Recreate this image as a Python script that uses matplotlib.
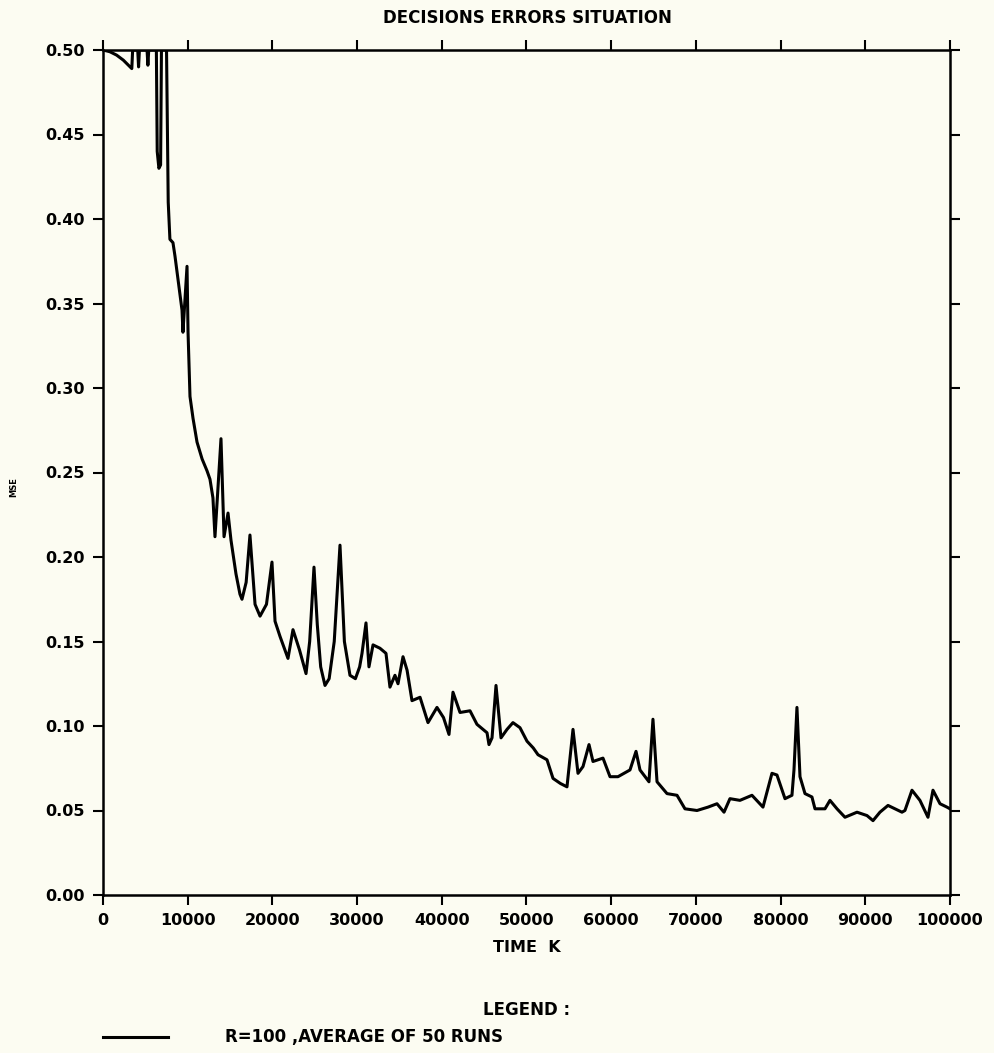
import matplotlib
matplotlib.use("Agg")
import matplotlib.pyplot as plt

# ---- data ----
time_k = [0, 800, 1600, 2400, 3000, 3400, 3500, 4100, 4200, 4300, 5200, 5300, 5400,
          6300, 6400, 6600, 6800, 6900, 7500, 7700, 7900, 8260, 8500, 9330, 9440,
          9920, 10040, 10270, 10630, 11100, 11700, 12280, 12630, 12980, 13220, 13930,
          14290, 14760, 15110, 15700, 16170, 16410, 16900, 17350, 17950, 18540, 19300,
          19950, 20310, 20900, 21840, 22430, 23200, 23970, 24400, 24910, 25300, 25700,
          26210, 26700, 27300, 27980, 28500, 29160, 29800, 30300, 30580, 31050, 31400,
          31880, 32700, 33410, 33880, 34470, 34830, 35420, 35900, 36480, 37430, 38370,
          39430, 40200, 40850, 41320, 42150, 43330, 44150, 45340, 45570, 45930, 46400,
          46990, 47700, 48400, 49230, 50060, 50800, 51360, 52420, 53130, 54000, 54780,
          55490, 56080, 56670, 57380, 57850, 59030, 59860, 60800, 62220, 62930, 63400,
          64460, 64930, 65410, 66590, 67770, 68710, 70130, 71430, 72490, 73320, 74020,
          75200, 76620, 77920, 78980, 79570, 80520, 81340, 81580, 81930, 82290, 82880,
          83700, 84060, 85240, 85830, 86660, 87600, 89020, 90200, 90910, 91730, 92680,
          94330, 94680, 95510, 96450, 97400, 97990, 98820, 99640, 100000]
mse = [0.500, 0.499, 0.497, 0.494, 0.491, 0.489, 0.500, 0.500, 0.490, 0.500, 0.500, 0.491, 0.500,
       0.500, 0.440, 0.430, 0.432, 0.500, 0.500, 0.410, 0.388, 0.386, 0.378, 0.346, 0.333,
       0.372, 0.333, 0.295, 0.282, 0.268, 0.258, 0.251, 0.246, 0.235, 0.212, 0.270,
       0.212, 0.226, 0.210, 0.190, 0.178, 0.175, 0.185, 0.213, 0.172, 0.165, 0.172,
       0.197, 0.162, 0.153, 0.140, 0.157, 0.145, 0.131, 0.150, 0.194, 0.160, 0.135,
       0.124, 0.128, 0.150, 0.207, 0.150, 0.130, 0.128, 0.135, 0.143, 0.161, 0.135,
       0.148, 0.146, 0.143, 0.123, 0.130, 0.125, 0.141, 0.133, 0.115, 0.117, 0.102,
       0.111, 0.105, 0.095, 0.120, 0.108, 0.109, 0.101, 0.096, 0.089, 0.093, 0.124,
       0.093, 0.098, 0.102, 0.099, 0.091, 0.087, 0.083, 0.080, 0.069, 0.066, 0.064,
       0.098, 0.072, 0.076, 0.089, 0.079, 0.081, 0.070, 0.070, 0.074, 0.085, 0.074,
       0.067, 0.104, 0.067, 0.060, 0.059, 0.051, 0.050, 0.052, 0.054, 0.049, 0.057,
       0.056, 0.059, 0.052, 0.072, 0.071, 0.057, 0.059, 0.074, 0.111, 0.070, 0.060,
       0.058, 0.051, 0.051, 0.056, 0.051, 0.046, 0.049, 0.047, 0.044, 0.049, 0.053,
       0.049, 0.050, 0.062, 0.056, 0.046, 0.062, 0.054, 0.052, 0.051]

x_ticks = [0, 10000, 20000, 30000, 40000, 50000, 60000, 70000, 80000, 90000, 100000]
x_tick_labels = ["0", "10000", "20000", "30000", "40000", "50000", "60000",
                 "70000", "80000", "90000", "100000"]
y_ticks = [0.00, 0.05, 0.10, 0.15, 0.20, 0.25, 0.30, 0.35, 0.40, 0.45, 0.50]
y_tick_labels = ["0.00", "0.05", "0.10", "0.15", "0.20", "0.25", "0.30",
                 "0.35", "0.40", "0.45", "0.50"]

title = "DECISIONS ERRORS SITUATION"
x_label = "TIME  K"
y_label = "MSE"
legend_title = "LEGEND :"
legend_label = "R=100 ,AVERAGE OF 50 RUNS"

# ---- drawing ----
bg = "#fcfcf2"
W, H = 995, 1053
fig = plt.figure(figsize=(W / 100, H / 100), dpi=100, facecolor=bg)
ax = fig.add_axes([103 / W, 1 - 895 / H, (950 - 103) / W, (895 - 50) / H])
ax.set_facecolor(bg)

ax.plot(time_k, mse, color="black", linewidth=2.2, solid_joinstyle="round")

ax.set_xlim(0, 100000)
ax.set_ylim(0, 0.5)
ax.set_xticks(x_ticks)
ax.set_xticklabels(x_tick_labels)
ax.set_yticks(y_ticks)
ax.set_yticklabels(y_tick_labels)

font = dict(family="DejaVu Sans", weight="bold")
for lab in ax.get_xticklabels() + ax.get_yticklabels():
    lab.set_fontfamily("DejaVu Sans")
    lab.set_fontweight("bold")
    lab.set_fontsize(11.5)

ax.tick_params(axis="both", which="both", direction="out", length=7, width=1.5,
               top=True, right=True, labeltop=False, labelright=False, colors="black")
ax.tick_params(axis="x", pad=6)
ax.tick_params(axis="y", pad=6)
for s in ax.spines.values():
    s.set_linewidth(1.8)
    s.set_color("black")

fig.text(527 / W, 1 - 18 / H, title, ha="center", va="center", fontsize=12, **font)
fig.text(527 / W, 1 - 947 / H, x_label, ha="center", va="center", fontsize=11.5, **font)
fig.text(14 / W, 1 - 487 / H, y_label, ha="center", va="center", fontsize=6,
         rotation=90, **font)
fig.text(527 / W, 1 - 1010 / H, legend_title, ha="center", va="center", fontsize=12, **font)
fig.add_artist(plt.Line2D([103 / W, 168 / W], [1 - 1037 / H, 1 - 1037 / H],
                          color="black", linewidth=2.2, transform=fig.transFigure))
fig.text(225 / W, 1 - 1037 / H, legend_label, ha="left", va="center", fontsize=12, **font)

fig.savefig("out.png", dpi=100, facecolor=bg)
